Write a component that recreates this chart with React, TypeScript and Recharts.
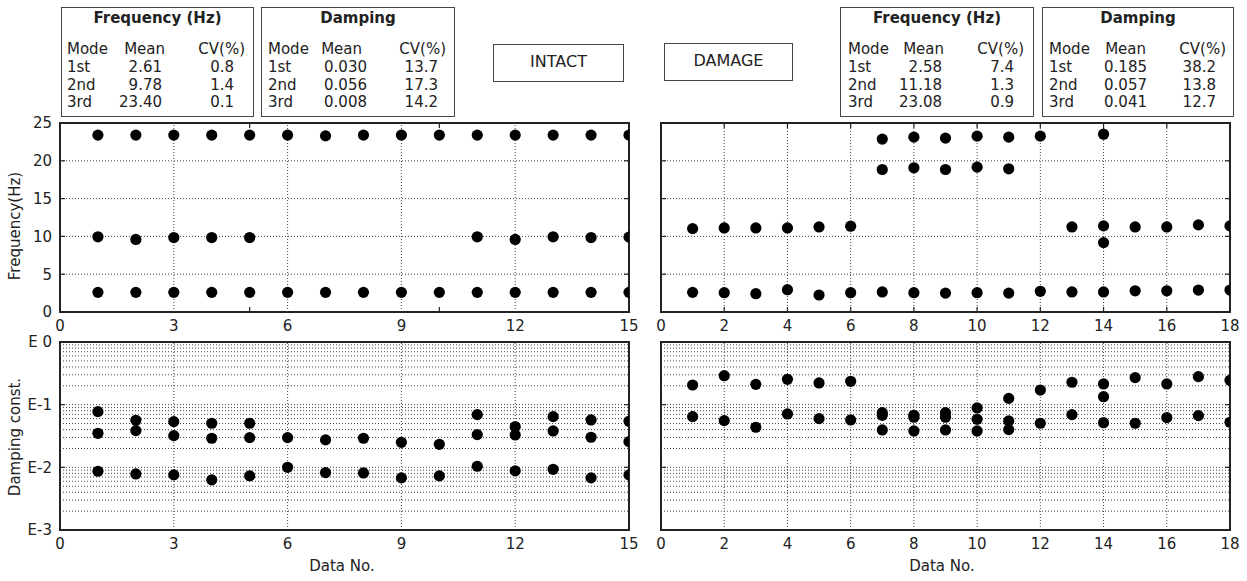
import React from "react";
import {
  ScatterChart,
  Scatter,
  XAxis,
  YAxis,
  ReferenceArea,
  ReferenceLine,
} from "recharts";

// ---- table values ----
const intactFreqStats = [
  ["1st", "2.61", "0.8"],
  ["2nd", "9.78", "1.4"],
  ["3rd", "23.40", "0.1"],
];
const intactDampStats = [
  ["1st", "0.030", "13.7"],
  ["2nd", "0.056", "17.3"],
  ["3rd", "0.008", "14.2"],
];
const damageFreqStats = [
  ["1st", "2.58", "7.4"],
  ["2nd", "11.18", "1.3"],
  ["3rd", "23.08", "0.9"],
];
const damageDampStats = [
  ["1st", "0.185", "38.2"],
  ["2nd", "0.057", "13.8"],
  ["3rd", "0.041", "12.7"],
];

// ---- axis ticks ----
const intactXTicks = [0, 3, 6, 9, 12, 15];
const damageXTicks = [0, 2, 4, 6, 8, 10, 12, 14, 16, 18];
const freqYTicks = [0, 5, 10, 15, 20, 25];
const dampYTicks: number[] = [];
[0.001, 0.01, 0.1].forEach((d) => {
  for (let k = 1; k <= 9; k++) dampYTicks.push(Number((k * d).toPrecision(3)));
});
dampYTicks.push(1);

// ---- intact (Data No. 1..15) ----
const intactFreq1 = [2.6, 2.6, 2.6, 2.6, 2.6, 2.6, 2.6, 2.6, 2.6, 2.6, 2.6, 2.6, 2.6, 2.6, 2.6];
const intactFreq2 = [9.95, 9.6, 9.85, 9.85, 9.85, null, null, null, null, null, 9.95, 9.6, 9.95, 9.85, 9.9];
const intactFreq3 = [23.4, 23.4, 23.4, 23.4, 23.4, 23.4, 23.3, 23.4, 23.4, 23.4, 23.4, 23.4, 23.4, 23.4, 23.4];

const intactDamp1 = [0.0349, 0.0385, 0.0321, 0.0291, 0.0298, 0.0298, 0.0274, 0.0291, 0.0251, 0.0233, 0.0333, 0.0329, 0.0381, 0.0302, 0.0257];
const intactDamp2 = [0.0774, 0.0564, 0.0536, 0.0505, 0.0505, null, null, null, null, null, 0.0693, 0.0446, 0.0644, 0.057, 0.0543];
const intactDamp3 = [0.00866, 0.00785, 0.00757, 0.0063, 0.0073, 0.01, 0.00824, 0.00814, 0.00678, 0.0073, 0.0104, 0.00877, 0.00931, 0.00678, 0.00757];

// ---- damage (Data No. 1..18) ----
const damageFreq1 = [2.6, 2.55, 2.42, 2.95, 2.25, 2.55, 2.65, 2.55, 2.5, 2.55, 2.5, 2.74, 2.65, 2.65, 2.8, 2.8, 2.9, 2.9];
const damageFreq2 = [11.03, 11.12, 11.12, 11.12, 11.25, 11.35, null, null, null, null, null, null, 11.25, 11.39, 11.25, 11.25, 11.52, 11.39];
const damageFreq2b = [null, null, null, null, null, null, null, null, null, null, null, null, null, 9.18, null, null, null, null];
const damageFreq19 = [null, null, null, null, null, null, 18.85, 19.07, 18.85, 19.16, 18.94, null, null, null, null, null, null, null];
const damageFreq3 = [null, null, null, null, null, null, 22.87, 23.13, 23.0, 23.26, 23.13, 23.26, null, 23.52, null, null, null, null];

const damageDampHigh = [0.206, 0.29, 0.211, 0.254, 0.222, 0.236, null, null, null, null, 0.126, 0.171, 0.228, 0.214, 0.27, 0.214, 0.28, 0.245];
const damageDampHigh2 = [null, null, null, null, null, null, null, null, null, null, null, null, null, 0.134, null, null, null, null];
const damageDampMidUp = [null, null, null, null, null, null, 0.0746, 0.0677, 0.0746, 0.0886, null, null, null, null, null, null, null, null];
const damageDampMid = [0.0644, 0.0556, 0.0436, 0.0711, 0.0598, 0.057, 0.0677, 0.063, 0.063, 0.0585, 0.055, 0.0505, 0.0693, 0.0516, 0.0505, 0.0621, 0.0668, 0.0524];
const damageDampLow = [null, null, null, null, null, null, 0.0395, 0.0381, 0.0395, 0.0381, 0.04, null, null, null, null, null, null, null];

const FONT = "'DejaVu Sans', Verdana, sans-serif";
const INK = "#222";

function toPoints(values: (number | null)[]) {
  return values
    .map((v, i) => (v == null ? null : { x: i + 1, y: v }))
    .filter((p) => p !== null) as { x: number; y: number }[];
}

const Dot = (props: any) => <circle cx={props.cx} cy={props.cy} r={5.6} fill="#000" />;

function dampTickLabel(v: number) {
  const l = Math.log10(v);
  const e = Math.round(l);
  if (Math.abs(l - e) > 1e-6) return "";
  return e === 0 ? "E 0" : `E${e}`;
}

function StatBox({ left, width, title, rows, cols }: any) {
  const [modeX, meanHdr, meanVal, cvHdr, cvVal] = cols;
  const rowY = [50.5, 68.5, 86];
  const txt = (s: string, x: number, y: number, align: "left" | "right") => (
    <span
      key={s + x + y}
      style={{
        position: "absolute",
        top: y,
        left: align === "left" ? x : undefined,
        right: align === "right" ? width - x : undefined,
        whiteSpace: "nowrap",
        lineHeight: "17px",
      }}
    >
      {s}
    </span>
  );
  return (
    <div
      style={{
        position: "absolute",
        left,
        top: 7,
        width,
        height: 110,
        border: "1.5px solid #444",
        boxSizing: "border-box",
        fontFamily: FONT,
        fontSize: 15,
        color: INK,
      }}
    >
      <div style={{ position: "absolute", top: 2, width: "100%", textAlign: "center", fontWeight: 700, lineHeight: "17px" }}>
        {title}
      </div>
      {txt("Mode", modeX, 33, "left")}
      {txt("Mean", meanHdr, 33, "right")}
      {txt("CV(%)", cvHdr, 33, "right")}
      {rows.map((r: string[], i: number) => (
        <React.Fragment key={i}>
          {txt(r[0], modeX, rowY[i], "left")}
          {txt(r[1], meanVal, rowY[i], "right")}
          {txt(r[2], cvVal, rowY[i], "right")}
        </React.Fragment>
      ))}
    </div>
  );
}

function LabelBox({ left, top, width, text }: any) {
  return (
    <div
      style={{
        position: "absolute",
        left,
        top,
        width,
        height: 38,
        border: "1.5px solid #444",
        boxSizing: "border-box",
        fontFamily: FONT,
        fontSize: 16,
        color: INK,
        textAlign: "center",
        lineHeight: "34px",
      }}
    >
      {text}
    </div>
  );
}

const tickStyle = { fontSize: 15, fill: INK, fontFamily: FONT };

function edgeTicks(xMax: number, yMin: number, yMax: number, yVals: number[], xVals: number[], dx: number, dy: number, log: boolean) {
  const out: React.ReactNode[] = [];
  yVals.forEach((y) => {
    out.push(<ReferenceLine key={`yl${y}`} segment={[{ x: 0, y }, { x: dx, y }]} stroke={INK} strokeWidth={1.2} />);
    out.push(<ReferenceLine key={`yr${y}`} segment={[{ x: xMax - dx, y }, { x: xMax, y }]} stroke={INK} strokeWidth={1.2} />);
  });
  xVals.forEach((x) => {
    const yb = log ? yMin * dy : yMin + dy;
    const yt = log ? yMax / dy : yMax - dy;
    out.push(<ReferenceLine key={`xb${x}`} segment={[{ x, y: yMin }, { x, y: yb }]} stroke={INK} strokeWidth={1.2} />);
    out.push(<ReferenceLine key={`xt${x}`} segment={[{ x, y: yt }, { x, y: yMax }]} stroke={INK} strokeWidth={1.2} />);
  });
  return out;
}

function Panel({ left, top, width, height, margin, xMax, xTicks, log, showY, series, yTickMarks, xTickMarks }: any) {
  const yDomain = log ? [0.001, 1] : [0, 25];
  const yTicks = log ? dampYTicks : freqYTicks;
  const dx = (xMax / 569) * 5;
  const dy = log ? Math.pow(10, 5 / 62.7) : (25 / 189) * 5;
  const gridH = yTicks.filter((v) => v > yDomain[0] && v < yDomain[1]);
  const gridV = xTicks.filter((v: number) => v > 0 && v < xMax);
  return (
    <div style={{ position: "absolute", left, top }}>
      <ScatterChart width={width} height={height} margin={margin}>
        <XAxis
          type="number"
          dataKey="x"
          domain={[0, xMax]}
          ticks={xTicks}
          interval={0}
          tickLine={false}
          axisLine={false}
          tick={tickStyle}
          height={log ? 40 : 28}
          allowDataOverflow
        />
        <YAxis
          type="number"
          dataKey="y"
          scale={log ? "log" : "linear"}
          domain={yDomain}
          ticks={yTicks}
          interval={0}
          tickLine={false}
          axisLine={false}
          tick={tickStyle}
          tickFormatter={showY ? (log ? dampTickLabel : undefined) : () => ""}
          width={showY ? 60 : 0}
          allowDataOverflow
        />
        {gridH.map((v) => (
          <ReferenceLine key={`gh${v}`} y={v} stroke="#444" strokeDasharray="1 2" strokeWidth={1} />
        ))}
        {gridV.map((v: number) => (
          <ReferenceLine key={`gv${v}`} x={v} stroke="#444" strokeDasharray="1 2" strokeWidth={1} />
        ))}
        <ReferenceArea
          x1={0}
          x2={xMax}
          y1={yDomain[0]}
          y2={yDomain[1]}
          fill="none"
          stroke={INK}
          strokeWidth={2}
          ifOverflow="visible"
        />
        {edgeTicks(xMax, yDomain[0], yDomain[1], yTickMarks, xTickMarks, dx, dy, log)}
        {series.map((s: (number | null)[], i: number) => (
          <Scatter key={i} data={toPoints(s)} shape={Dot} isAnimationActive={false} />
        ))}
      </ScatterChart>
    </div>
  );
}

const textBase: React.CSSProperties = {
  position: "absolute",
  fontFamily: FONT,
  fontSize: 15,
  color: INK,
  whiteSpace: "nowrap",
};

export default function App() {
  return (
    <div style={{ position: "fixed", left: 0, top: 0, width: 1247, height: 581, background: "#fff", overflow: "hidden" }}>
      <StatBox left={61} width={193} title="Frequency (Hz)" rows={intactFreqStats} cols={[5, 105, 102, 185, 174]} />
      <StatBox left={261} width={194} title="Damping" rows={intactDampStats} cols={[6, 102, 107, 186, 178]} />
      <StatBox left={840} width={194} title="Frequency (Hz)" rows={damageFreqStats} cols={[7, 105, 103, 185, 175]} />
      <StatBox left={1042} width={192} title="Damping" rows={damageDampStats} cols={[6, 105, 106, 185, 175]} />
      <LabelBox left={493} top={44} width={131} text="INTACT" />
      <LabelBox left={664} top={43} width={129} text="DAMAGE" />

      <Panel
        left={0}
        top={100}
        width={640}
        height={240}
        margin={{ top: 23, right: 11, bottom: 0, left: 0 }}
        xMax={15}
        xTicks={intactXTicks}
        log={false}
        showY
        series={[intactFreq1, intactFreq2, intactFreq3]}
        yTickMarks={[5, 10, 15, 20]}
        xTickMarks={[5, 10]}
      />
      <Panel
        left={0}
        top={330}
        width={640}
        height={240}
        margin={{ top: 12, right: 11, bottom: 0, left: 0 }}
        xMax={15}
        xTicks={intactXTicks}
        log
        showY
        series={[intactDamp1, intactDamp2, intactDamp3]}
        yTickMarks={[0.1, 0.01]}
        xTickMarks={[]}
      />
      <Panel
        left={640}
        top={100}
        width={607}
        height={240}
        margin={{ top: 23, right: 17, bottom: 0, left: 21 }}
        xMax={18}
        xTicks={damageXTicks}
        log={false}
        showY={false}
        series={[damageFreq1, damageFreq2, damageFreq2b, damageFreq19, damageFreq3]}
        yTickMarks={[5, 10, 15, 20]}
        xTickMarks={[2, 4, 6, 8, 10, 12, 14, 16]}
      />
      <Panel
        left={640}
        top={330}
        width={607}
        height={240}
        margin={{ top: 12, right: 17, bottom: 0, left: 21 }}
        xMax={18}
        xTicks={damageXTicks}
        log
        showY={false}
        series={[damageDampHigh, damageDampHigh2, damageDampMidUp, damageDampMid, damageDampLow]}
        yTickMarks={[0.1, 0.01]}
        xTickMarks={[]}
      />

      <div style={{ ...textBase, left: 15, top: 226, transform: "translate(-50%, -50%) rotate(-90deg)" }}>Frequency(Hz)</div>
      <div style={{ ...textBase, left: 15, top: 437, transform: "translate(-50%, -50%) rotate(-90deg)" }}>Damping const.</div>
      <div style={{ ...textBase, left: 342, top: 566, transform: "translate(-50%, -50%)" }}>Data No.</div>
      <div style={{ ...textBase, left: 942, top: 566, transform: "translate(-50%, -50%)" }}>Data No.</div>
    </div>
  );
}
